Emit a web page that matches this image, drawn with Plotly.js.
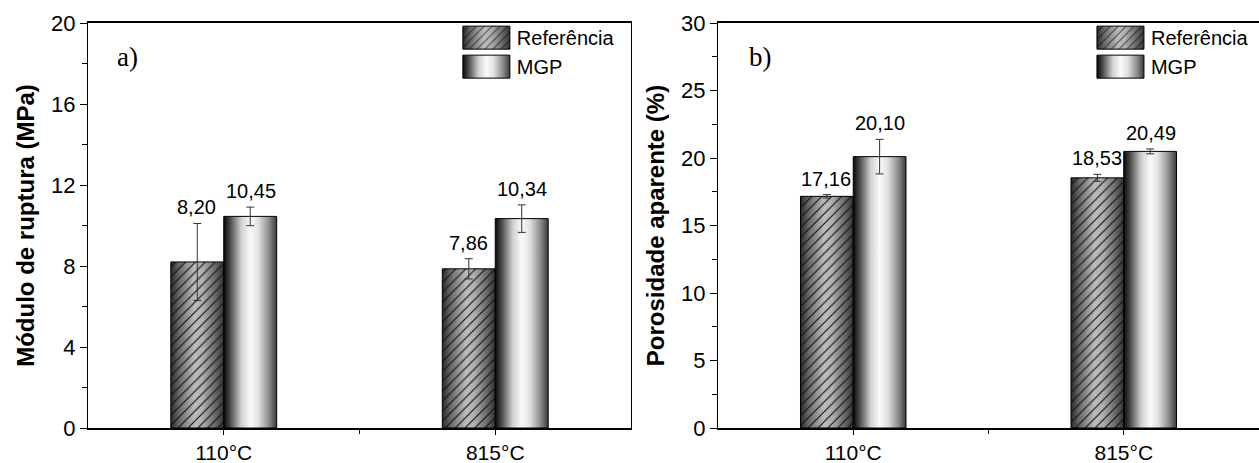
<!DOCTYPE html>
<html><head><meta charset="utf-8">
<script src="https://cdn.plot.ly/plotly-3.0.1.min.js"></script>
<style>html,body{margin:0;padding:0;background:#fff;} #chart{width:1259px;height:463px;}</style>
</head><body>
<svg width="0" height="0" style="position:absolute">
<defs>
<linearGradient id="gradMGP" x1="0" y1="0" x2="1" y2="0">
 <stop offset="0" stop-color="#080808"/>
 <stop offset="0.12" stop-color="#4a4a4a"/>
 <stop offset="0.33" stop-color="#cfcfcf"/>
 <stop offset="0.5" stop-color="#fafafa"/>
 <stop offset="0.65" stop-color="#e2e2e2"/>
 <stop offset="0.86" stop-color="#8a8a8a"/>
 <stop offset="1" stop-color="#3a3a3a"/>
</linearGradient>
<linearGradient id="gradRef" x1="0" y1="0" x2="1" y2="0">
 <stop offset="0" stop-color="#2a2a2a"/>
 <stop offset="0.15" stop-color="#666666"/>
 <stop offset="0.45" stop-color="#bcbcbc"/>
 <stop offset="0.6" stop-color="#b0b0b0"/>
 <stop offset="0.88" stop-color="#5c5c5c"/>
 <stop offset="1" stop-color="#333333"/>
</linearGradient>
</defs></svg>
<div id="chart"></div>
<script>
const categories = ['110°C', '815°C'];
const seriesNames = ['Referência', 'MGP'];
const moduloRef = [8.20, 7.86];
const moduloRefErr = [1.90, 0.50];
const moduloMGP = [10.45, 10.34];
const moduloMGPErr = [0.46, 0.68];
const porosRef = [17.16, 18.53];
const porosRefErr = [0.13, 0.26];
const porosMGP = [20.10, 20.49];
const porosMGPErr = [1.28, 0.18];
const yTicksModulo = [0, 4, 8, 12, 16, 20];
const yTicksPoros = [0, 5, 10, 15, 20, 25, 30];
const panelLabels = ['a)', 'b)'];
const yTitles = ['Módulo de ruptura (MPa)', 'Porosidade aparente (%)'];

const xi = categories.map((_, i) => i);
const FONT = 'Liberation Sans, Arial, sans-serif';

function bar(name, y, err, xa, ya, kind, legend) {
  const marker = kind === 'ref'
    ? {color: '#999', line: {color: '#000', width: 1},
       pattern: {shape: '/', bgcolor: 'rgba(0,0,0,0)', fgcolor: '#111', size: 7, solidity: 0.16, fillmode: 'replace'}}
    : {color: '#ccc', line: {color: '#000', width: 1}};
  return {type: 'bar', name, x: xi, y, xaxis: xa, yaxis: ya, meta: kind, legend, showlegend: true,
    marker, error_y: {type: 'data', array: err, visible: true, color: '#333', thickness: 1, width: 4},
    hoverinfo: 'skip'};
}

const data = [
  bar(seriesNames[0], moduloRef, moduloRefErr, 'x', 'y', 'ref', 'legend'),
  bar(seriesNames[1], moduloMGP, moduloMGPErr, 'x', 'y', 'mgp', 'legend'),
  bar(seriesNames[0], porosRef, porosRefErr, 'x2', 'y2', 'ref', 'legend2'),
  bar(seriesNames[1], porosMGP, porosMGPErr, 'x2', 'y2', 'mgp', 'legend2')
];

const fmt = v => v.toFixed(2).replace('.', ',');
const annotations = [];
function addLabels(vals, errs, xref, yref, shift) {
  vals.forEach((v, i) => annotations.push({
    x: xi[i], y: v + errs[i], xref, yref, xshift: shift, yshift: 3,
    text: fmt(v), showarrow: false, yanchor: 'bottom', xanchor: 'center',
    font: {family: FONT, size: 20, color: '#000'}
  }));
}
addLabels(moduloRef, moduloRefErr, 'x', 'y', -27);
addLabels(moduloMGP, moduloMGPErr, 'x', 'y', 27);
addLabels(porosRef, porosRefErr, 'x2', 'y2', -27);
addLabels(porosMGP, porosMGPErr, 'x2', 'y2', 27);
annotations.push({xref: 'paper', yref: 'paper', x: 0.023, y: 0.916, text: panelLabels[0], showarrow: false,
  xanchor: 'left', yanchor: 'middle', font: {family: 'Liberation Serif, Times New Roman, serif', size: 27, color: '#000'}});
annotations.push({xref: 'paper', yref: 'paper', x: 0.563, y: 0.916, text: panelLabels[1], showarrow: false,
  xanchor: 'left', yanchor: 'middle', font: {family: 'Liberation Serif, Times New Roman, serif', size: 27, color: '#000'}});

const midTicks = xi.slice(0, -1).map(i => i + 0.5);
function xAxis(domain, anchor) {
  return {domain, anchor, range: [-0.5, 1.5], tickmode: 'array', tickvals: xi, ticktext: categories,
    ticks: 'outside', ticklen: 5, tickcolor: '#000', showline: true, linecolor: '#000', linewidth: 2,
    mirror: true, showgrid: false, zeroline: false, tickfont: {family: FONT, size: 21, color: '#000'},
    minor: {tickmode: 'array', tickvals: midTicks, ticks: 'outside', ticklen: 4, tickcolor: '#000'}};
}
function yAxis(domain, anchor, range, ticks, minorStep, title, standoff, mirror) {
  return {domain, anchor, range, tickmode: 'array', tickvals: ticks, ticks: 'outside', ticklen: 7,
    tickcolor: '#000', showline: true, linecolor: '#000', linewidth: 1, mirror, showgrid: false,
    zeroline: false, tickfont: {family: FONT, size: 22, color: '#000'},
    minor: {dtick: minorStep, ticks: 'outside', ticklen: 5, tickcolor: '#000'},
    title: {text: title, standoff, font: {family: FONT, size: 24, color: '#000', weight: 'bold'}}};
}

const legendBase = {yanchor: 'top', bgcolor: 'rgba(0,0,0,0)',
  font: {family: FONT, size: 20, color: '#000'}, itemwidth: 50, tracegroupgap: 0};

const layout = {
  width: 1259, height: 463,
  margin: {l: 88, r: 0, t: 23, b: 35, autoexpand: false},
  paper_bgcolor: '#fff', plot_bgcolor: '#fff',
  barmode: 'group', bargap: 0.61, bargroupgap: 0,
  xaxis: xAxis([0, 0.4637], 'y'),
  yaxis: yAxis([0, 1], 'x', [0, 20], yTicksModulo, 2, yTitles[0], 9, true),
  xaxis2: xAxis([0.538, 1], 'y2'),
  yaxis2: yAxis([0, 1], 'x2', [0, 30], yTicksPoros, 2.5, yTitles[1], 9, false),
  legend: Object.assign({x: 0.315, y: 1.012, xanchor: 'left'}, legendBase),
  legend2: Object.assign({x: 0.8565, y: 1.012, xanchor: 'left'}, legendBase),
  annotations,
  showlegend: true
};

function traceOf(node) {
  const d = node.__data__;
  if (!d) return null;
  if (d[0] && d[0].trace) return d[0].trace;
  if (d[0] && d[0][0] && d[0][0].trace) return d[0][0].trace;
  if (d.trace) return d.trace;
  return null;
}

function decorate(gd) {
  gd.querySelectorAll('.barlayer .trace').forEach(g => {
    const tr = traceOf(g);
    if (!tr) return;
    g.querySelectorAll('.point path').forEach(p => {
      if (p.dataset.deco) return;
      if (tr.meta === 'mgp') {
        p.style.fill = 'url(#gradMGP)';
      } else if (tr.meta === 'ref') {
        const c = p.cloneNode(false);
        c.style.fill = 'url(#gradRef)';
        c.style.stroke = 'none';
        c.dataset.deco = 'c';
        p.parentNode.insertBefore(c, p);
      }
      p.dataset.deco = '1';
    });
  });
  gd.querySelectorAll('g.traces').forEach(g => {
    try {
      if (g.dataset.deco) return;
      const t = g.querySelector('text.legendtext') || g.querySelector('text');
      const p = g.querySelector('.legendpoints path');
      if (!t || !p) return;
      const tr = traceOf(g);
      const kind = tr && tr.meta ? tr.meta : (t.textContent.trim() === seriesNames[1] ? 'mgp' : 'ref');
      const tx = parseFloat(t.getAttribute('x')) || 60;
      const right = tx - 7, left = right - 47;
      p.removeAttribute('transform');
      p.setAttribute('d', `M${left},-11.5H${right}V11.5H${left}Z`);
      p.style.stroke = '#000';
      p.style.strokeWidth = '1px';
      if (kind === 'mgp') {
        p.style.fill = 'url(#gradMGP)';
      } else {
        const c = p.cloneNode(false);
        c.style.fill = 'url(#gradRef)';
        c.style.stroke = 'none';
        p.parentNode.insertBefore(c, p);
      }
      g.dataset.deco = '1';
    } catch (e) { /* keep default legend symbol */ }
  });
}

const gd = document.getElementById('chart');
Plotly.newPlot(gd, data, layout, {displayModeBar: false, staticPlot: true, responsive: false})
  .then(() => {
    decorate(gd);
    setTimeout(() => decorate(gd), 50);
  });
</script>
</body></html>
